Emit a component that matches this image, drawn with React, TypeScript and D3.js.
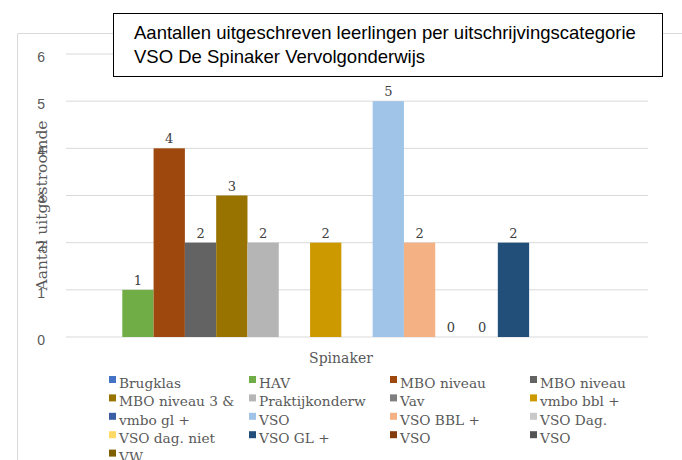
import React from "react";
import * as d3 from "d3";

const categories: string[] = ["Spinaker"];
const seriesNames: string[] = [
  "Brugklas", "HAV", "MBO niveau", "MBO niveau", "MBO niveau 3 &", "Praktijkonderw",
  "Vav", "vmbo bbl +", "vmbo gl +", "VSO", "VSO BBL +", "VSO Dag.", "VSO dag. niet",
  "VSO GL +", "VSO", "VSO", "VW",
];
const seriesValues: (number | null)[] = [null, 1, 4, 2, 3, 2, null, 2, null, 5, 2, 0, 0, 2, null, null, null];
const seriesColors: string[] = [
  "#4472C4", "#70AD47", "#9E480E", "#636363", "#997300", "#B5B5B5",
  "#7F7F7F", "#CC9A00", "#3A5DA4", "#9FC4E7", "#F4B183", "#C9C9C9", "#FFD966",
  "#214F79", "#843C0C", "#545454", "#7F6000",
];
const yTicks: number[] = [0, 1, 2, 3, 4, 5, 6];
const titleLines: string[] = [
  "Aantallen uitgeschreven leerlingen per uitschrijvingscategorie",
  "VSO De Spinaker Vervolgonderwijs",
];
const yTitle = "Aantal uitgestroomde";

const SERIF = "'DejaVu Serif', serif";
const SANS = "'Liberation Sans', Arial, sans-serif";

export default function App() {
  const W = 682, H = 460;
  const plotL = 66, plotR = 648, plotT = 54, plotB = 337;
  const y = d3.scaleLinear().domain([0, 6]).range([plotB, plotT]);
  const x0 = d3.scaleBand<string>().domain(categories).range([plotL, plotR]).paddingInner(0).paddingOuter(0.047);
  const idx = seriesNames.map((_, i) => String(i));
  const x1 = d3.scaleBand<string>().domain(idx).range([0, x0.bandwidth()]).padding(0);

  const legendCols = [109, 249, 390, 530];
  const legendBase0 = 388, legendRowH = 18.4;

  return (
    <div style={{ position: "absolute", left: 0, top: 0 }}>
      <svg width={W} height={H} style={{ display: "block", background: "#fff" }}>
        {/* chart area border */}
        <path d={`M17.5,${H + 5} V33.5 H${W + 5}`} fill="none" stroke="#d9d9d9" strokeWidth={1} />
        {/* gridlines */}
        {yTicks.map((t) => (
          <line key={t} x1={plotL} x2={plotR} y1={y(t)} y2={y(t)} stroke="#d9d9d9" strokeWidth={1} />
        ))}
        {/* tick labels */}
        {yTicks.map((t) => (
          <text key={"t" + t} x={45} y={y(t) + 3} dy="0.35em" textAnchor="end" fontFamily={SANS} fontSize={14} fill="#595959">
            {t}
          </text>
        ))}
        {/* y title */}
        <text
          transform={`translate(47,${(plotT + plotB) / 2 + 10}) rotate(-90)`}
          textAnchor="middle"
          fontFamily={SERIF}
          fontSize={15.5}
          fill="#595959"
        >
          {yTitle}
        </text>
        {/* bars */}
        {categories.map((c) => (
          <g key={c} transform={`translate(${x0(c)},0)`}>
            {seriesValues.map((v, i) =>
              v === null ? null : (
                <g key={i}>
                  {v > 0 && (
                    <rect
                      x={x1(String(i))}
                      y={y(v)}
                      width={x1.bandwidth()}
                      height={y(0) - y(v)}
                      fill={seriesColors[i]}
                    />
                  )}
                  <text
                    x={(x1(String(i)) as number) + x1.bandwidth() / 2}
                    y={y(v) - 5}
                    textAnchor="middle"
                    fontFamily={SERIF}
                    fontSize={13}
                    fill="#404040"
                  >
                    {v}
                  </text>
                </g>
              )
            )}
            <text x={x0.bandwidth() / 2 - 16} y={363} textAnchor="middle" fontFamily={SERIF} fontSize={14} fill="#595959">
              {c}
            </text>
          </g>
        ))}
        {/* title box */}
        <rect x={113.5} y={13.5} width={549} height={63} fill="#fff" stroke="#000" strokeWidth={1} />
        {titleLines.map((l, i) => (
          <text key={i} x={134} y={39 + i * 24} fontFamily={SANS} fontSize={18.5} fill="#000">
            {l}
          </text>
        ))}
        {/* legend */}
        {seriesNames.map((n, i) => {
          const col = i % 4;
          const row = Math.floor(i / 4);
          const lx = legendCols[col];
          const ly = legendBase0 + row * legendRowH;
          return (
            <g key={"l" + i}>
              <rect x={lx} y={ly - 12} width={7} height={7} fill={seriesColors[i]} />
              <text x={lx + 10} y={ly} fontFamily={SERIF} fontSize={13.7} fill="#595959">
                {n}
              </text>
            </g>
          );
        })}
      </svg>
    </div>
  );
}
